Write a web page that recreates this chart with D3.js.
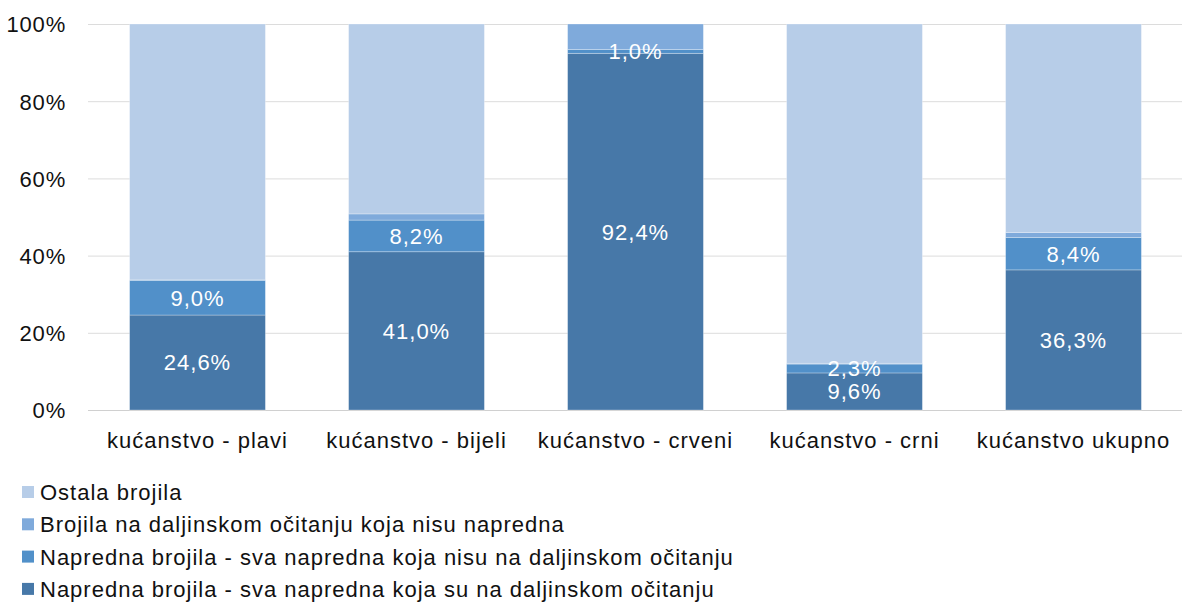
<!DOCTYPE html>
<html>
<head>
<meta charset="utf-8">
<script src="https://cdn.jsdelivr.net/npm/d3@7"></script>
<style>
  body { margin: 0; background: #fff; }
  text { font-family: "Liberation Sans", Arial, sans-serif; }
</style>
</head>
<body>
<svg id="chart" width="1182" height="606"></svg>
<script>
// data (percent)
var categories = ["kućanstvo - plavi", "kućanstvo - bijeli", "kućanstvo - crveni", "kućanstvo - crni", "kućanstvo ukupno"];
var seriesNames = [
	"Napredna brojila - sva napredna koja su na daljinskom očitanju",
	"Napredna brojila - sva napredna koja nisu na daljinskom očitanju",
	"Brojila na daljinskom očitanju koja nisu napredna",
	"Ostala brojila"
];
var naprednaDaljinsko = [24.6, 41.0, 92.4, 9.6, 36.3];
var naprednaNisuDaljinsko = [9.0, 8.2, 1.0, 2.3, 8.4];
var daljinskoNisuNapredna = [0.1, 1.6, 6.6, 0.2, 1.3];
var ostala = [66.3, 49.2, 0.0, 87.9, 54.0];
var labeledSeries = [true, true, false, false];
var yTicks = [0, 20, 40, 60, 80, 100];

var colors = ["#4778a8", "#5190c9", "#7faadb", "#b7cde8"];

var svg = d3.select("#chart");
var margin = {left: 88, right: 0, top: 24, bottom: 196};

var rows = categories.map(function (c, i) {
	return {
		cat: c,
		s0: naprednaDaljinsko[i],
		s1: naprednaNisuDaljinsko[i],
		s2: daljinskoNisuNapredna[i],
		s3: ostala[i]
	};
});
var stack = d3.stack().keys(["s0", "s1", "s2", "s3"]);
var layers = stack(rows);

var x = d3.scaleBand()
	.domain(categories)
	.range([margin.left, 1183])
	.paddingInner(0.38)
	.paddingOuter(0.19);
var y = d3.scaleLinear()
	.domain([0, 100])
	.range([410, 24]);

// gridlines
svg.append("g")
	.selectAll("line")
	.data(yTicks)
	.enter()
	.append("line")
	.attr("x1", margin.left)
	.attr("x2", 1182)
	.attr("y1", function (d) { return y(d) + 0.5; })
	.attr("y2", function (d) { return y(d) + 0.5; })
	.style("stroke", function (d) { return d === 0 ? "#d0d0d0" : "#dcdcdc"; })
	.style("stroke-width", 1);

// y axis labels
var yAxis = d3.axisLeft(y)
	.tickValues(yTicks)
	.tickFormat(function (d) { return d + "%"; })
	.tickSize(0)
	.tickPadding(0);
var yg = svg.append("g")
	.attr("transform", "translate(66,0)")
	.call(yAxis);
yg.select(".domain").remove();
yg.selectAll("text")
	.attr("dy", "0.36em")
	.style("font-size", "22px")
	.style("font-family", "'Liberation Sans', Arial, sans-serif")
	.style("letter-spacing", "0.8px")
	.style("fill", "#111");

// bars
var layerG = svg.append("g")
	.selectAll("g")
	.data(layers)
	.enter()
	.append("g")
	.style("fill", function (d, i) { return colors[i]; });

layerG.selectAll("rect")
	.data(function (d) { return d; })
	.enter()
	.append("rect")
	.attr("x", function (d) { return x(d.data.cat); })
	.attr("width", x.bandwidth())
	.attr("y", function (d) { return y(d[1]); })
	.attr("height", function (d) { return Math.max(0, y(d[0]) - y(d[1])); })
	.style("stroke", "rgba(255,255,255,0.35)")
	.style("stroke-width", 0.8);

// value labels
layers.forEach(function (layer, li) {
	if (!labeledSeries[li]) return;
	svg.append("g")
		.selectAll("text")
		.data(layer)
		.enter()
		.append("text")
		.attr("x", function (d) { return x(d.data.cat) + x.bandwidth() / 2; })
		.attr("y", function (d) { return (y(d[0]) + y(d[1])) / 2; })
		.attr("dy", "0.36em")
		.attr("text-anchor", "middle")
		.style("font-size", "22px")
		.style("letter-spacing", "1px")
		.style("fill", "#fff")
		.text(function (d) { return (d[1] - d[0]).toFixed(1).replace(".", ",") + "%"; });
});

// x axis labels
var xAxis = d3.axisBottom(x).tickSize(0).tickPadding(0);
var xg = svg.append("g")
	.attr("transform", "translate(0,440)")
	.call(xAxis);
xg.select(".domain").remove();
xg.selectAll("text")
	.attr("dy", "0.36em")
	.style("font-size", "22px")
	.style("font-family", "'Liberation Sans', Arial, sans-serif")
	.style("letter-spacing", "1px")
	.style("fill", "#111");

// legend, drawn top to bottom in reverse series order
var legendItems = seriesNames.map(function (n, i) { return {name: n, color: colors[i]}; }).reverse();
var legend = svg.append("g")
	.selectAll("g")
	.data(legendItems)
	.enter()
	.append("g")
	.attr("transform", function (d, i) { return "translate(22," + (492 + i * 32.3) + ")"; });
legend.append("rect")
	.attr("x", 0)
	.attr("y", -6)
	.attr("width", 12)
	.attr("height", 12)
	.style("fill", function (d) { return d.color; });
legend.append("text")
	.attr("x", 18)
	.attr("y", 0)
	.attr("dy", "0.36em")
	.style("font-size", "22px")
	.style("letter-spacing", "1px")
	.style("fill", "#111")
	.text(function (d) { return d.name; });
</script>
</body>
</html>
